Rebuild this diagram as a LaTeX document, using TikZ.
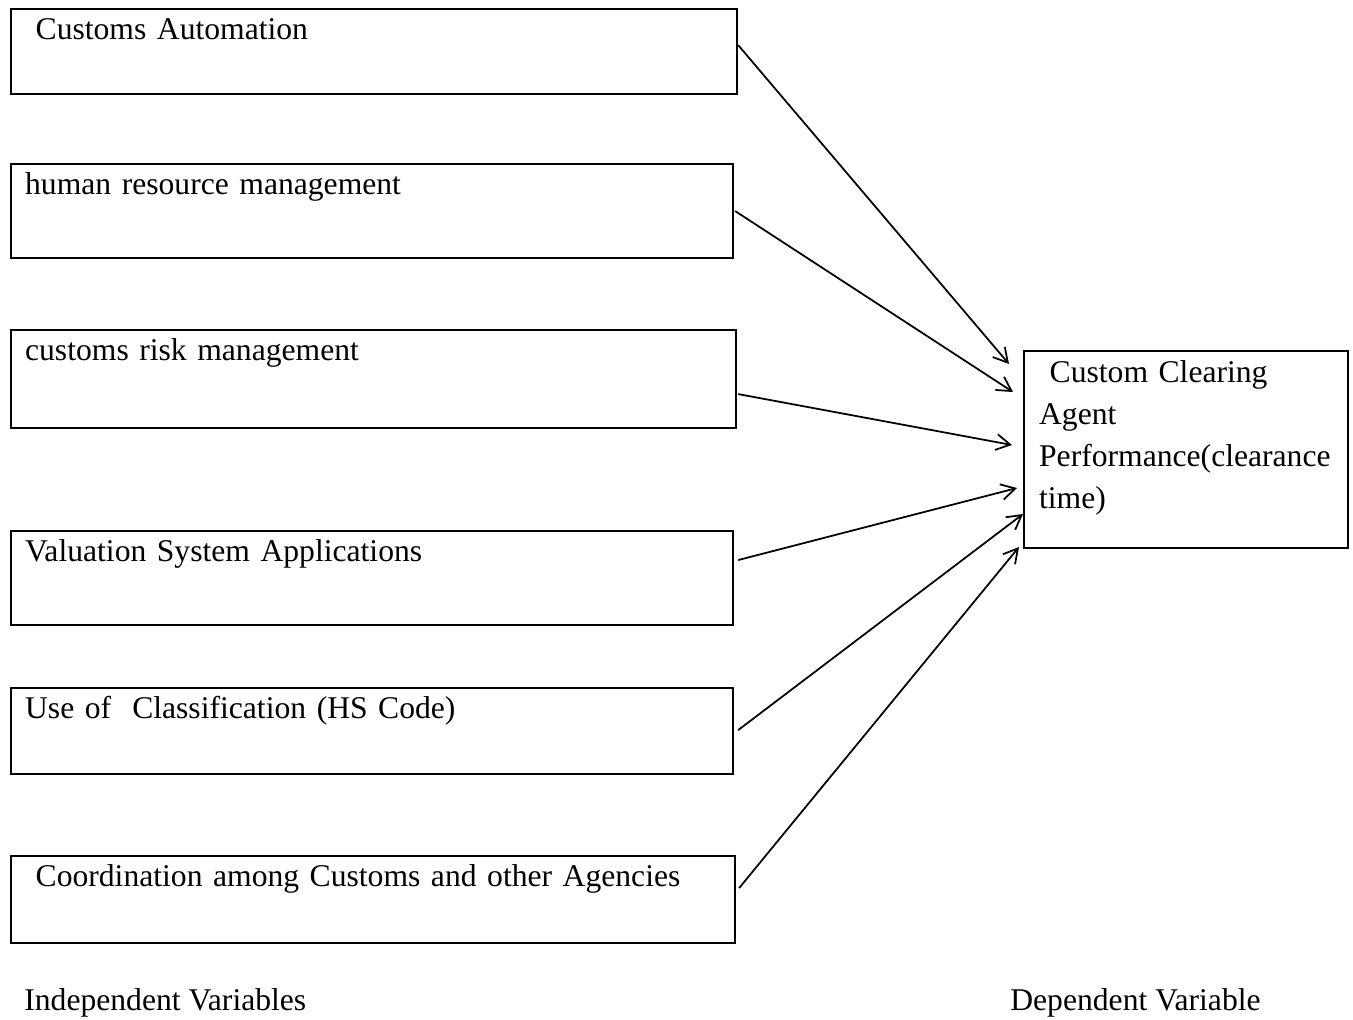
\documentclass[tikz,border=0pt]{standalone}
\usepackage{fontspec}
\setmainfont{Liberation Serif}
\usetikzlibrary{arrows.meta,calc}

\newcommand{\figfont}{\fontsize{18}{23.9}\selectfont}
\tikzset{
  varbox/.style={draw, line width=1.3pt, anchor=north west, inner xsep=0.28cm,
    inner ysep=0pt, text height=17pt, align=left, font=\figfont},
  link/.style={line width=1pt, -{Straight Barb[length=8pt,width=9pt]}},
}

\begin{document}
\begin{tikzpicture}[x=0.02cm, y=-0.02cm]
  \useasboundingbox (0,0) rectangle (1353,1019);
  % Boxes and labels:
  \node[varbox, text width=13.96cm, text depth=31.3pt] (auto) at (10,8) {\ Customs Automation};
  \node[varbox, text width=13.88cm, text depth=36.4pt] (hrm) at (10,163) {human resource management};
  \node[varbox, text width=13.94cm, text depth=38.7pt] (risk) at (10,329) {customs risk management};
  \node[varbox, text width=13.88cm, text depth=36.4pt] (valu) at (10,530) {Valuation System Applications};
  \node[varbox, text width=13.88cm, text depth=31.9pt] (hscode) at (10,687) {Use of\ \ Classification (HS Code)};
  \node[varbox, text width=13.92cm, text depth=32.4pt] (coord) at (10,855) {\ Coordination among Customs and other Agencies};
  \node[varbox, inner xsep=0.3cm, text width=5.88cm, text height=17.6pt, text depth=94.5pt] (perf) at (1023,350)
    {\ Custom Clearing\\Agent\\\mbox{Performance(clearance}\\time)};
  \node[anchor=base west, inner sep=0pt, font=\figfont] (indep) at (24,1010) {Independent Variables};
  \node[anchor=base west, inner sep=0pt, font=\figfont] (dep) at (1010,1010) {Dependent Variable};
  % Arrows:
  \coordinate (tip1) at (1009,364);
  \coordinate (tip2) at (1013,392);
  \coordinate (tip3) at (1012,445);
  \coordinate (tip4) at (1017,488);
  \coordinate (tip5) at (1023,514);
  \coordinate (tip6) at (1019,547);
  \draw[link] ($(auto.east)+(0,-6.5)$) -- (tip1);
  \draw[link] ($(hrm.east)+(1,0)$) -- (tip2);
  \draw[link] ($(risk.east)+(1,15)$) -- (tip3);
  \draw[link] ($(valu.east)+(4,-18)$) -- (tip4);
  \draw[link] ($(hscode.east)+(4,-1)$) -- (tip5);
  \draw[link] ($(coord.east)+(3,-11.5)$) -- (tip6);
\end{tikzpicture}
\end{document}
